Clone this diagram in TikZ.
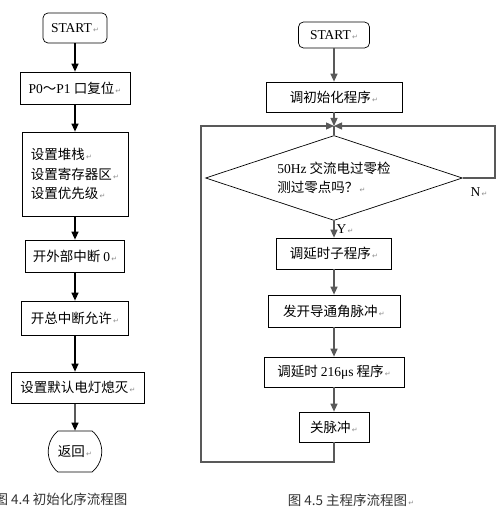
\documentclass[tikz,border=0pt]{standalone}
\usepackage{fontspec}
\setmainfont{Noto Sans CJK SC}
\newfontfamily\latinfont{Liberation Serif}
\newfontfamily\symfont{DejaVu Sans}
\usetikzlibrary{shapes.geometric,shapes.misc,arrows.meta}
\newcommand{\lat}[1]{{\latinfont #1}}
\newcommand{\retmark}{{\symfont\fontsize{7}{7}\selectfont\color{black!45}\,↵}}
\begin{document}
\begin{tikzpicture}[x=1pt,y=-1pt,
        font=\fontsize{13.5}{19.5}\selectfont,
        >={Triangle[width=7pt,length=8pt]},
        procbox/.style={draw,line width=0.7pt,inner sep=2pt},
        startbox/.style={procbox,rounded corners=5pt},
        endbox/.style={procbox,rounded rectangle,rounded rectangle arc length=100},
        flow/.style={->,line width=1.3pt},
        mainflow/.style={flow,draw=black!65}]
    \useasboundingbox (0,0) rectangle (499,521);
    % left chart
    \node[startbox,minimum width=64,minimum height=30] (start1) at (75,28) {\lat{START}\retmark};
    \node[procbox,minimum width=110,minimum height=32] (ports) at (75,88) {\lat{P0}～\lat{P1} 口复位\retmark};
    \node[procbox,minimum width=106,minimum height=84,align=left] (setup) at (75,174) {设置堆栈\retmark\\设置寄存器区\retmark\\设置优先级\retmark};
    \node[procbox,minimum width=99,minimum height=32] (ext0) at (75,256) {开外部中断 \lat{0}\retmark};
    \node[procbox,minimum width=107,minimum height=34] (intall) at (75,318) {开总中断允许\retmark};
    \node[procbox,minimum width=133,minimum height=31] (lamp) at (78,387.5) {设置默认电灯熄灭\retmark};
    \node[endbox,minimum width=55,minimum height=41,inner xsep=8pt] (back) at (75,451.5) {返回\retmark};
    \draw[flow] (start1) -- (ports);
    \draw[flow] (ports) -- (setup);
    \draw[flow] (setup) -- (ext0);
    \draw[flow] (ext0) -- (intall);
    \draw[flow] (intall) -- (lamp.north -| intall);
    \draw[flow] (lamp.south -| back) -- (back);
    \node[anchor=east,text=black!80] (cap1) at (131,499) {图 4.4 初始化序流程图};
    % right chart
    \node[startbox,minimum width=71,minimum height=26] (start2) at (334,35) {\lat{START}\retmark};
    \node[procbox,minimum width=136,minimum height=30] (callinit) at (334,97) {调初始化程序\retmark};
    \coordinate (merge) at (334,126);
    \node[draw,diamond,line width=0.7pt,minimum width=257,minimum height=85,aspect=3,inner sep=0pt,align=left] (zero) at (334,178) {\lat{50Hz} 交流电过零检\\测过零点吗？\retmark};
    \node[procbox,minimum width=115,minimum height=31] (delay) at (334,253.5) {调延时子程序\retmark};
    \node[procbox,minimum width=132,minimum height=32] (fire) at (334,311) {发开导通角脉冲\retmark};
    \node[procbox,minimum width=140,minimum height=30] (wait) at (334,372) {调延时 \lat{216μs} 程序\retmark};
    \node[procbox,minimum width=70,minimum height=30] (stop) at (334,427) {关脉冲\retmark};
    \coordinate (nturn) at (495,126);
    \coordinate (lbot) at (334,462);
    \coordinate (lturn) at (201,126);
    \draw[mainflow] (start2) -- (callinit);
    \draw[mainflow] (callinit) -- (merge);
    \draw[mainflow,-] (merge) -- (zero.north);
    \draw[mainflow] (zero.east) -| (nturn) -- (merge);
    \draw[mainflow] (zero) -- (delay) node[pos=0.5,anchor=west,inner sep=2pt] {\lat{Y}\retmark};
    \draw[mainflow] (delay) -- (fire);
    \draw[mainflow] (fire) -- (wait);
    \draw[mainflow] (wait) -- (stop);
    \draw[mainflow] (stop) -- (lbot) -| (lturn) -- (merge);
    \node (nlabel) at (479,192) {\lat{N}\retmark};
    \node[text=black!80] (cap2) at (351,500) {图 4.5 主程序流程图\retmark};
\end{tikzpicture}
\end{document}
